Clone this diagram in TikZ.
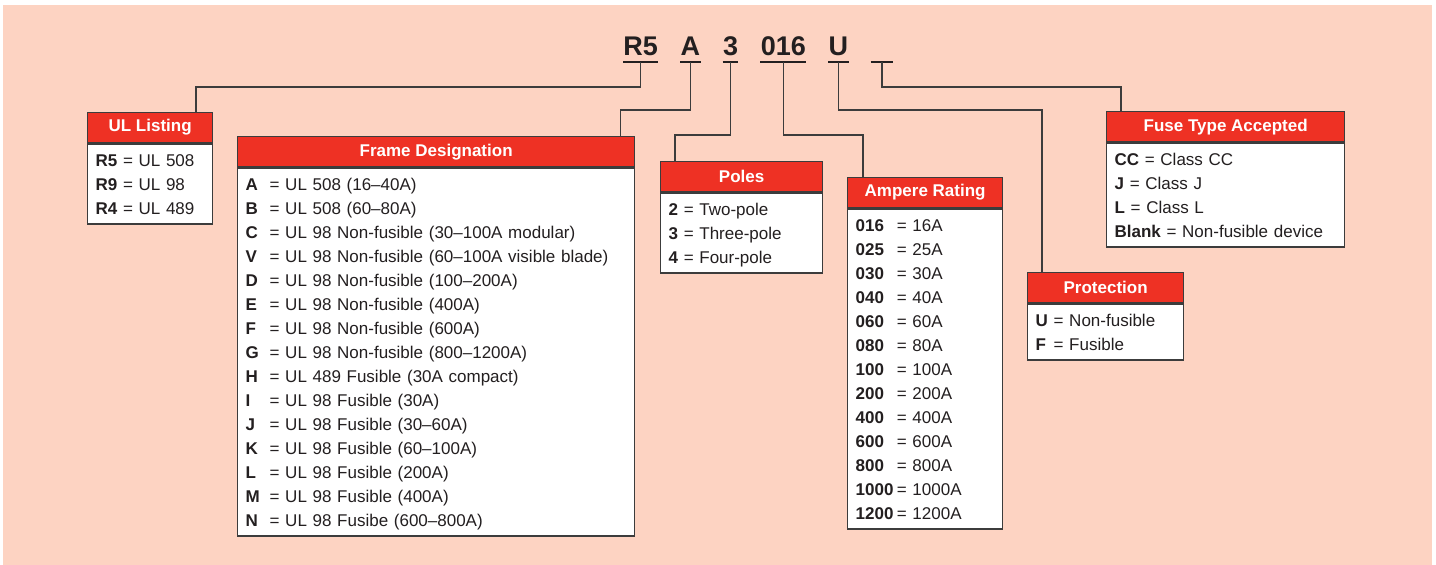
\documentclass[tikz,border=0pt]{standalone}
\usepackage{fontspec}
\setmainfont{Liberation Sans}
\usetikzlibrary{positioning,calc}
\definecolor{bgpeach}{HTML}{FDD3C2}
\definecolor{hdrred}{HTML}{EE3124}
\definecolor{edgegray}{HTML}{3C3C3C}
\definecolor{inkdark}{HTML}{231F20}
\newcommand{\lstrut}{\rule[-2.8pt]{0pt}{12pt}}
\newcommand{\kv}[2]{\mbox{\lstrut\textbf{#1} = #2}}
\newcommand{\kvw}[3]{\mbox{\lstrut\makebox[#1][l]{\textbf{#2}}= #3}}
\tikzset{
  hdr/.style={draw=edgegray, fill=hdrred, text=white, anchor=north west,
    minimum height=15pt, inner sep=0pt, line width=0.65pt,
    font=\fontsize{8.5}{10}\selectfont\bfseries},
  lst/.style={draw=edgegray, fill=white, text=inkdark, anchor=north, align=left,
    inner xsep=4pt, inner ysep=2pt, line width=0.65pt,
    font=\fontsize{8.5}{12}\selectfont},
  code/.style={text=inkdark, inner xsep=0pt, inner ysep=3pt, text height=9.7pt,
    text depth=0pt, font=\fontsize{13.5}{16}\selectfont\bfseries},
  uline/.style={draw=inkdark, line width=1.3pt},
  link/.style={draw=edgegray, line width=0.65pt},
}

\begin{document}
\begin{tikzpicture}[x=0.5pt, y=-0.5pt]
  \useasboundingbox (0,0) rectangle (1436,565);
  \fill[bgpeach] (3,5) rectangle (1432,565);

  % part number
  \node[code, anchor=south west] (c1) at (623,62) {R5};
  \node[code, right=11pt of c1] (c2) {A};
  \node[code, right=11pt of c2] (c3) {3};
  \node[code, right=11pt of c3] (c4) {016};
  \node[code, right=11pt of c4] (c5) {U};
  \node[code, right=11pt of c5, minimum width=11pt] (c6) {};
  \foreach \c in {c1,c2,c3,c4,c5,c6}
    \draw[uline] (\c.south west) -- (\c.south east);

  % boxes
  \node[hdr, minimum width=62.5pt] (ul) at (87,112) {UL Listing};
  \node[lst, text width=54.5pt] (ulb) at (ul.south)
    {\kv{R5}{UL 508}\\ \kv{R9}{UL 98}\\ \kv{R4}{UL 489}};

  \node[hdr, minimum width=198.5pt] (frame) at (237,136) {Frame Designation};
  \node[lst, text width=190.5pt] (frameb) at (frame.south)
    {\kvw{12pt}{A}{UL 508 (16–40A)}\\
     \kvw{12pt}{B}{UL 508 (60–80A)}\\
     \kvw{12pt}{C}{UL 98 Non-fusible (30–100A modular)}\\
     \kvw{12pt}{V}{UL 98 Non-fusible (60–100A visible blade)}\\
     \kvw{12pt}{D}{UL 98 Non-fusible (100–200A)}\\
     \kvw{12pt}{E}{UL 98 Non-fusible (400A)}\\
     \kvw{12pt}{F}{UL 98 Non-fusible (600A)}\\
     \kvw{12pt}{G}{UL 98 Non-fusible (800–1200A)}\\
     \kvw{12pt}{H}{UL 489 Fusible (30A compact)}\\
     \kvw{12pt}{I}{UL 98 Fusible (30A)}\\
     \kvw{12pt}{J}{UL 98 Fusible (30–60A)}\\
     \kvw{12pt}{K}{UL 98 Fusible (60–100A)}\\
     \kvw{12pt}{L}{UL 98 Fusible (200A)}\\
     \kvw{12pt}{M}{UL 98 Fusible (400A)}\\
     \kvw{12pt}{N}{UL 98 Fusibe (600–800A)}};

  \node[hdr, minimum width=81pt] (poles) at (660,161) {Poles};
  \node[lst, text width=73pt] (polesb) at (poles.south)
    {\kv{2}{Two-pole}\\ \kv{3}{Three-pole}\\ \kv{4}{Four-pole}};

  \node[hdr, minimum width=77.5pt] (amp) at (847,177) {Ampere Rating};
  \node[lst, text width=69.5pt] (ampb) at (amp.south)
    {\kvw{20.6pt}{016}{16A}\\ \kvw{20.6pt}{025}{25A}\\ \kvw{20.6pt}{030}{30A}\\
     \kvw{20.6pt}{040}{40A}\\ \kvw{20.6pt}{060}{60A}\\ \kvw{20.6pt}{080}{80A}\\
     \kvw{20.6pt}{100}{100A}\\ \kvw{20.6pt}{200}{200A}\\ \kvw{20.6pt}{400}{400A}\\
     \kvw{20.6pt}{600}{600A}\\ \kvw{20.6pt}{800}{800A}\\
     \kvw{20.6pt}{1000}{1000A}\\ \kvw{20.6pt}{1200}{1200A}};

  \node[hdr, minimum width=78pt] (prot) at (1027,272) {Protection};
  \node[lst, text width=70pt] (protb) at (prot.south)
    {\kvw{9pt}{U}{Non-fusible}\\ \kvw{9pt}{F}{Fusible}};

  \node[hdr, minimum width=119pt] (fuse) at (1106,111) {Fuse Type Accepted};
  \node[lst, text width=111pt] (fuseb) at (fuse.south)
    {\kv{CC}{Class CC}\\ \kv{J}{Class J}\\ \kv{L}{Class L}\\
     \kv{Blank}{Non-fusible device}};

  % leaders
  \draw[link] (c1.south) -- ++(0,25) -| ($(ul.north west)+(109,0)$);
  \draw[link] (c2.south) -- ++(0,48) -| ($(frame.north east)+(-15,0)$);
  \draw[link] (c3.south) -- ++(0,73) -| ($(poles.north west)+(15,0)$);
  \draw[link] (c4.south) -- ++(0,73) -| ($(amp.north west)+(16,0)$);
  \draw[link] (c5.south) -- ++(0,48) -| ($(prot.north west)+(15,0)$);
  \draw[link] (c6.south) -- ++(0,25) -| ($(fuse.north west)+(15,0)$);
\end{tikzpicture}
\end{document}
